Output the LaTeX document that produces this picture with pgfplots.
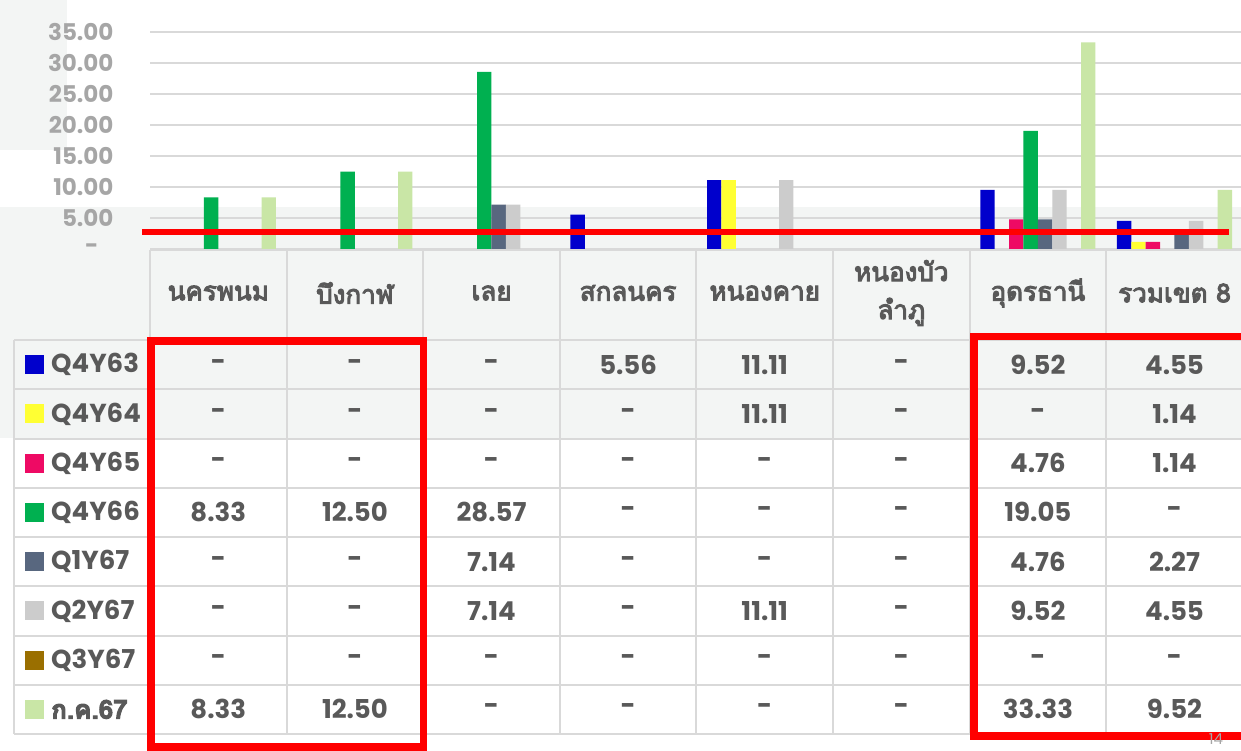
\documentclass[border=0pt]{standalone}
\usepackage{pgfplots}
\pgfplotsset{compat=1.18}
\usepackage{pgfplotstable}
\usepackage{fontspec}
\setmainfont{Poppins}
\newfontfamily\thaifont[Script=Thai,FakeBold=4]{Loma}
\definecolor{cA}{HTML}{0000CC}
\definecolor{cB}{HTML}{FFFF33}
\definecolor{cC}{HTML}{EE0A64}
\definecolor{cD}{HTML}{00B050}
\definecolor{cE}{HTML}{58677F}
\definecolor{cF}{HTML}{CCCCCC}
\definecolor{cG}{HTML}{9A6F00}
\definecolor{cH}{HTML}{C9E6A6}
\definecolor{gridc}{HTML}{D9D9D9}
\definecolor{tickc}{HTML}{A6A6A6}
\definecolor{txt}{HTML}{595959}
\definecolor{bgg}{HTML}{F3F5F4}

\pgfplotstableread{
x  a     b     c     d     e     f     g   h
0  0     0     0     8.33  0     0     0   8.33
1  0     0     0     12.50 0     0     0   12.50
2  0     0     0     28.57 7.14  7.14  0   0
3  5.56  0     0     0     0     0     0   0
4  11.11 11.11 0     0     0     11.11 0   0
5  0     0     0     0     0     0     0   0
6  9.52  0     4.76  19.05 4.76  9.52  0   33.33
7  4.55  1.14  1.14  0     2.27  4.55  0   9.52
}\datatable

\newcommand{\cw}{136.6}
\newcommand{\rh}{49.25}
\newcommand{\trow}[4]{%
  \pgfmathsetmacro{\yc}{340+\rh*(#1+0.5)}
  \fill[#2] (25,\yc-9.5) rectangle (44,\yc+9.5);
  \node[font=\fontsize{26}{26}\selectfont\bfseries, text=txt, inner sep=0, anchor=west] at (51,\yc) {#3};
  \foreach \v [count=\i from 0] in {#4} {
    \node[font=\fontsize{26}{26}\selectfont\bfseries, text=txt, inner sep=0] at ({150+\cw*(\i+0.5)},\yc) {\v};
  }
}

\begin{document}
\begin{tikzpicture}
\clip (0pt,0pt) rectangle (1241pt,-750pt);
\begin{scope}[x=1pt,y=-1pt]
\path[use as bounding box] (0,0) rectangle (1241,750);
\fill[white] (0,0) rectangle (1241,750);
\fill[bgg] (0,207) rectangle (1241,438);
\fill[bgg] (0,0) rectangle (67,150);
\end{scope}

\begin{axis}[
  at={(150pt,-249pt)}, anchor=south west,
  scale only axis, width=1092.8pt, height=217pt,
  xmin=-0.5, xmax=7.5, ymin=0, ymax=35,
  ytick={0,5,...,35},
  yticklabels={{-\hspace*{15pt}},5.00,10.00,15.00,20.00,25.00,30.00,35.00},
  xtick=\empty,
  ybar=0pt, bar width=14.4pt,
  ymajorgrids, grid style={draw=gridc, line width=1.5pt},
  axis line style={draw=none},
  major tick length=0pt,
  yticklabel style={font=\fontsize{23}{23}\selectfont\bfseries, text=tickc, xshift=-33pt},
  clip=false,
]
\addplot[fill=cA, draw=none] table[x=x,y=a] {\datatable};
\addplot[fill=cB, draw=none] table[x=x,y=b] {\datatable};
\addplot[fill=cC, draw=none] table[x=x,y=c] {\datatable};
\addplot[fill=cD, draw=none] table[x=x,y=d] {\datatable};
\addplot[fill=cE, draw=none] table[x=x,y=e] {\datatable};
\addplot[fill=cF, draw=none] table[x=x,y=f] {\datatable};
\addplot[fill=cG, draw=none] table[x=x,y=g] {\datatable};
\addplot[fill=cH, draw=none] table[x=x,y=h] {\datatable};
\end{axis}

\begin{scope}[x=1pt,y=-1pt]
% table grid
\foreach \k in {0,...,8} {
  \draw[gridc, line width=2pt] ({150+\cw*\k},250) -- ({150+\cw*\k},734);
  \draw[gridc, line width=2pt] (14,{340+\rh*\k}) -- (1250,{340+\rh*\k});
}
\draw[gridc, line width=2pt] (150,250) -- (1250,250);
\draw[gridc, line width=2pt] (14,340) -- (14,734);
% headers
\foreach \n [count=\i from 0] in {นครพนม,บึงกาฬ,เลย,สกลนคร,หนองคาย,{หนองบัว\\ลำภู},อุดรธานี,รวมเขต 8} {
  \node[font=\thaifont\fontsize{26}{38}\selectfont, text=txt, inner sep=0, align=center] at ({150+\cw*(\i+0.5)},293) {\n};
}
\trow{0}{cA}{Q4Y63}{-,-,-,5.56,11.11,-,9.52,4.55}
\trow{1}{cB}{Q4Y64}{-,-,-,-,11.11,-,-,1.14}
\trow{2}{cC}{Q4Y65}{-,-,-,-,-,-,4.76,1.14}
\trow{3}{cD}{Q4Y66}{8.33,12.50,28.57,-,-,-,19.05,-}
\trow{4}{cE}{Q1Y67}{-,-,7.14,-,-,-,4.76,2.27}
\trow{5}{cF}{Q2Y67}{-,-,7.14,-,11.11,-,9.52,4.55}
\trow{6}{cG}{Q3Y67}{-,-,-,-,-,-,-,-}
\trow{7}{cH}{{\thaifont\fontsize{26}{26}\selectfont ก.ค.67}}{8.33,12.50,-,-,-,-,33.33,9.52}
% annotations
\draw[red, line width=6pt] (142,232) -- (1229,232);
\draw[red, line width=7.5pt] (151,341) rectangle (423.5,747);
\draw[red, line width=7.5pt] (974,336.5) rectangle (1265,736);
\node[text=tickc, font=\fontsize{15}{15}\selectfont, anchor=south, inner sep=0] at (1216,745) {14};
\end{scope}
\end{tikzpicture}
\end{document}
